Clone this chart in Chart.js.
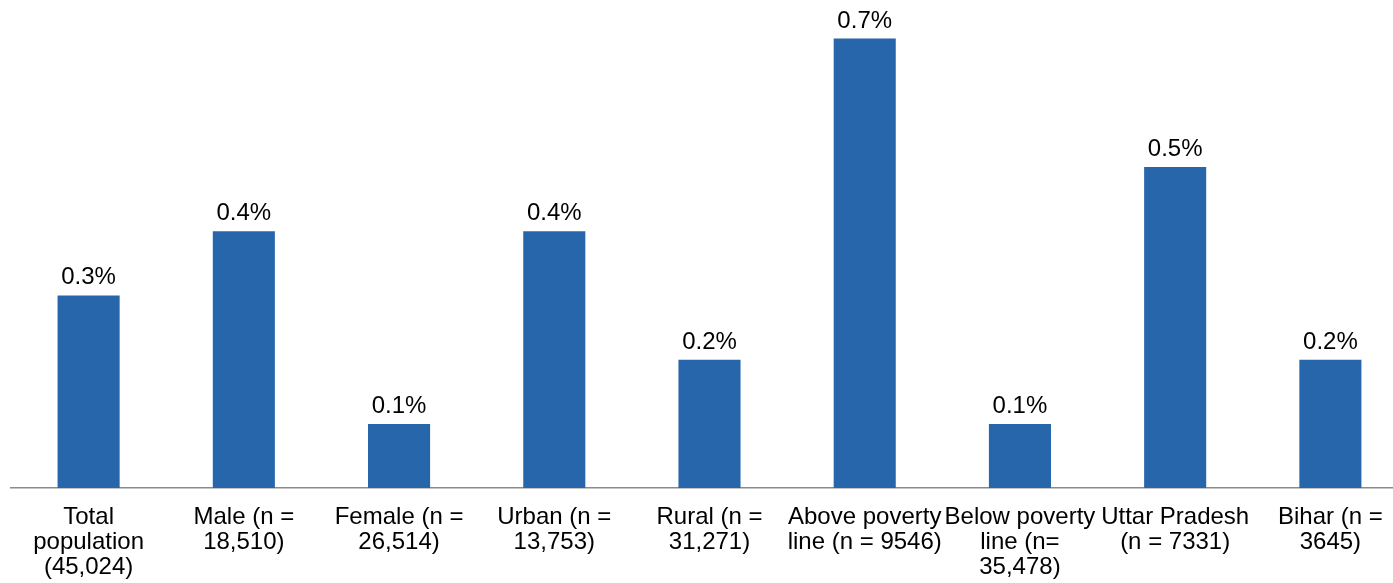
<!DOCTYPE html>
<html>
<head>
<meta charset="utf-8">
<script src="https://cdn.jsdelivr.net/npm/chart.js@4"></script>
<style>
  html, body { margin: 0; padding: 0; background: #fff; overflow: hidden; }
  #wrap { width: 1408px; height: 583px; }
</style>
</head>
<body>
<div id="wrap"><canvas id="bar-chart" width="1408" height="583"></canvas></div>
<script>
// categories (already split into lines as in the source)
const categories = [
  ["Total", "population", "(45,024)"],
  ["Male (n =", "18,510)"],
  ["Female (n =", "26,514)"],
  ["Urban (n =", "13,753)"],
  ["Rural (n =", "31,271)"],
  ["Above poverty", "line (n = 9546)"],
  ["Below poverty", "line (n=", "35,478)"],
  ["Uttar Pradesh", "(n = 7331)"],
  ["Bihar (n =", "3645)"]
];
// percent values
const values = [0.3, 0.4, 0.1, 0.4, 0.2, 0.7, 0.1, 0.5, 0.2];

const FONT = "'Liberation Sans', Arial, sans-serif";

// draws the value above each bar
const barLabels = {
  id: 'barLabels',
  afterDatasetsDraw(chart) {
    const ctx = chart.ctx;
    ctx.save();
    ctx.font = '24px ' + FONT;
    ctx.fillStyle = '#000';
    ctx.textAlign = 'center';
    ctx.textBaseline = 'alphabetic';
    chart.getDatasetMeta(0).data.forEach(function(bar, i) {
      ctx.fillText(values[i].toFixed(1) + '%', bar.x, bar.y - 11);
    });
    ctx.restore();
  }
};

new Chart(document.getElementById("bar-chart"), {
  type: 'bar',
  data: {
    labels: categories,
    datasets: [{
      data: values,
      backgroundColor: "#2866AC",
      borderWidth: 0,
      barPercentage: 0.4,
      categoryPercentage: 1
    }]
  },
  options: {
    responsive: false,
    animation: false,
    layout: { padding: { left: 11, right: 0, top: 0, bottom: -13 } },
    plugins: {
      legend: { display: false },
      tooltip: { enabled: false }
    },
    scales: {
      x: {
        grid: { display: false, drawTicks: false },
        border: { display: true, color: '#8a8a8a', width: 1.5 },
        ticks: {
          color: '#000',
          font: { family: FONT, size: 24, lineHeight: 1.04 },
          padding: 16.5,
          autoSkip: false,
          maxRotation: 0,
          minRotation: 0
        }
      },
      y: {
        display: false,
        min: 0,
        max: 0.76
      }
    }
  },
  plugins: [barLabels]
});
</script>
</body>
</html>
